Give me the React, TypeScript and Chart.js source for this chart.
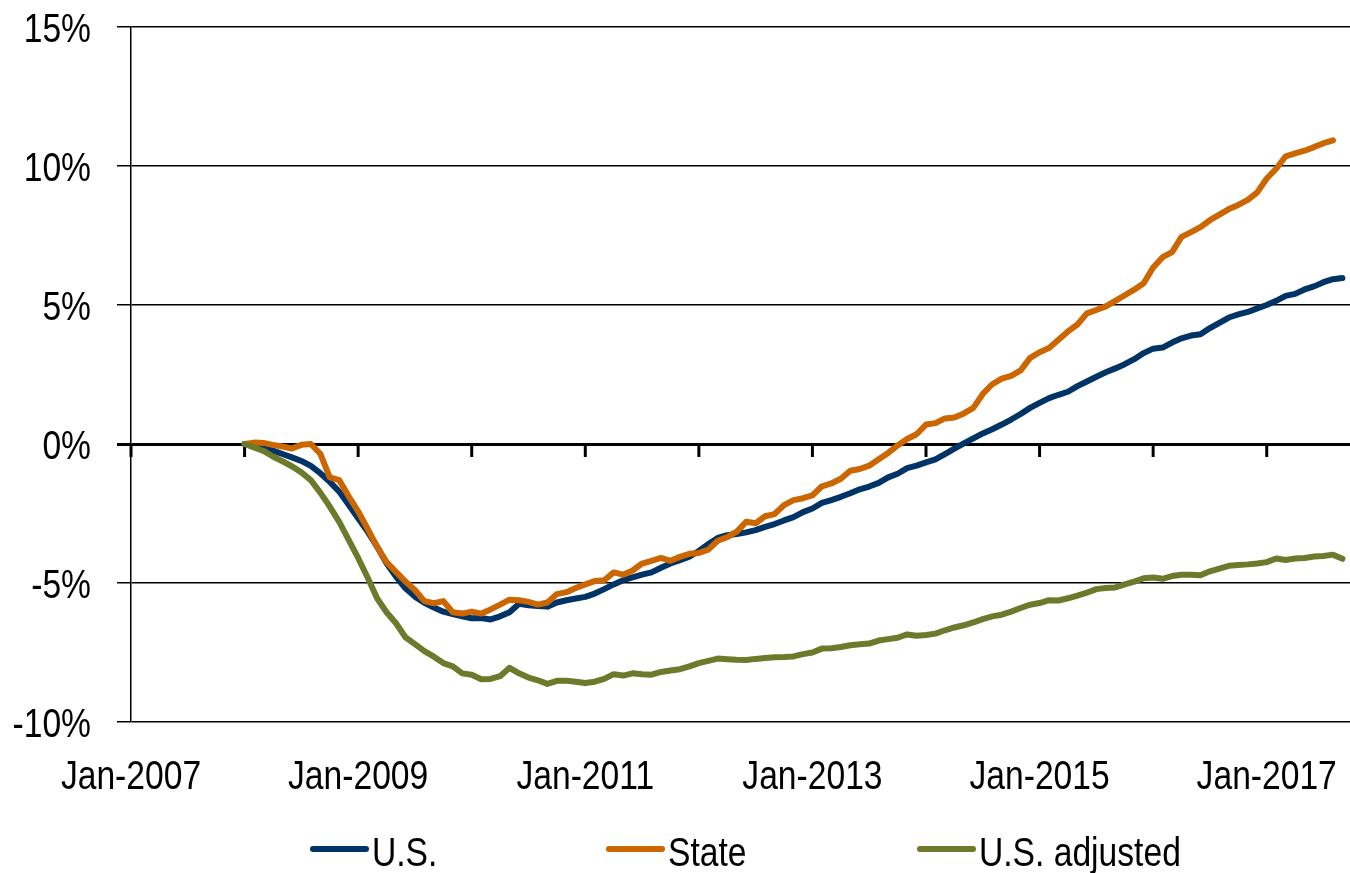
import React, { useEffect, useRef } from 'react';
import { Chart, registerables } from 'chart.js';

Chart.register(...registerables);

// Months are counted from Jan-2007 (= 0). All series start Jan-2008.
const START_MONTH = 12;

const usValues = [
  0, -0.07, -0.16, -0.24, -0.36, -0.48, -0.61, -0.79, -1.05, -1.36, -1.71, -2.19,
  -2.67, -3.15, -3.69, -4.29, -4.77, -5.19, -5.49, -5.71, -5.88, -6.03, -6.12, -6.2,
  -6.27, -6.26, -6.31, -6.2, -6.05, -5.75, -5.8, -5.83, -5.85, -5.7, -5.62, -5.56,
  -5.5, -5.38, -5.22, -5.05, -4.9, -4.8, -4.7, -4.62, -4.45, -4.3, -4.18, -4.05,
  -3.85, -3.6, -3.38, -3.28, -3.24, -3.18, -3.1, -2.98, -2.88, -2.75, -2.63, -2.45,
  -2.32, -2.12, -2.02, -1.9, -1.77, -1.63, -1.53, -1.4, -1.2, -1.07, -0.87, -0.78,
  -0.66, -0.55, -0.36, -0.17, 0.02, 0.2, 0.38, 0.53, 0.7, 0.88, 1.08, 1.3,
  1.48, 1.65, 1.77, 1.88, 2.08, 2.25, 2.42, 2.58, 2.72, 2.87, 3.05, 3.27,
  3.43, 3.47, 3.65, 3.8, 3.9, 3.95, 4.17, 4.36, 4.55, 4.66, 4.75, 4.88,
  5.0, 5.15, 5.33, 5.4, 5.56, 5.67, 5.82, 5.93, 5.97,
];

const stateValues = [
  0, 0.05, 0.04, -0.03, -0.09, -0.16, -0.03, 0.0, -0.35, -1.2, -1.3, -1.88,
  -2.42, -3.05, -3.7, -4.25, -4.6, -4.95, -5.25, -5.65, -5.73, -5.65, -6.05, -6.1,
  -6.03, -6.1, -5.95, -5.78, -5.6, -5.62, -5.68, -5.78, -5.7, -5.4, -5.33, -5.18,
  -5.05, -4.93, -4.9, -4.62, -4.7, -4.55, -4.3, -4.2, -4.1, -4.2, -4.06, -3.95,
  -3.92, -3.8, -3.48, -3.35, -3.15, -2.8, -2.85, -2.6, -2.52, -2.2, -2.02, -1.95,
  -1.85, -1.52, -1.42, -1.25, -0.96, -0.9, -0.78, -0.55, -0.32, -0.05, 0.18, 0.35,
  0.7, 0.75, 0.92, 0.95, 1.1, 1.3, 1.8, 2.15, 2.35, 2.45, 2.65, 3.1,
  3.3, 3.45, 3.75, 4.05, 4.3, 4.7, 4.82, 4.95, 5.15, 5.35, 5.55, 5.78,
  6.35, 6.72, 6.9, 7.45, 7.62, 7.8, 8.05, 8.25, 8.45, 8.6, 8.78, 9.05,
  9.55, 9.9, 10.35, 10.45, 10.55, 10.68, 10.82, 10.92,
];

const usAdjustedValues = [
  0, -0.12, -0.25, -0.45, -0.62, -0.8, -1.02, -1.3, -1.75, -2.25, -2.8, -3.45,
  -4.1, -4.8, -5.55, -6.05, -6.45, -6.95, -7.2, -7.45, -7.65, -7.88, -8.0, -8.25,
  -8.3, -8.46, -8.45, -8.35, -8.05, -8.25, -8.4, -8.5, -8.63, -8.52, -8.52, -8.55,
  -8.6, -8.55, -8.45, -8.28, -8.33, -8.25, -8.28, -8.3, -8.2, -8.15, -8.1, -8.0,
  -7.88, -7.8, -7.72, -7.74, -7.76, -7.77, -7.73, -7.7, -7.67, -7.66, -7.64, -7.56,
  -7.5, -7.36, -7.35, -7.3, -7.24, -7.2, -7.18, -7.07, -7.02, -6.97, -6.85, -6.9,
  -6.87, -6.82, -6.7, -6.6, -6.52, -6.42, -6.3, -6.2, -6.14, -6.03, -5.9, -5.78,
  -5.72, -5.62, -5.63, -5.55, -5.45, -5.35, -5.22, -5.18, -5.16, -5.05, -4.95, -4.83,
  -4.8, -4.85, -4.75, -4.7, -4.7, -4.72, -4.58, -4.48, -4.38, -4.35, -4.33, -4.3,
  -4.25, -4.12, -4.17, -4.12, -4.1, -4.05, -4.03, -3.98, -4.13,
];

const seriesNames = ['U.S.', 'State', 'U.S. adjusted'];
const seriesColors = ['#003366', '#CC6600', '#6B7A2B'];

// One tick per January; label every other year
const xTickLabels = [
  'Jan-2007', '', 'Jan-2009', '', 'Jan-2011', '', 'Jan-2013', '', 'Jan-2015', '', 'Jan-2017',
];
const yTickValues = [-10, -5, 0, 5, 10, 15];

const FONT = '"Liberation Sans", Arial, sans-serif';
const FONT_SIZE = 41;
const NARROW = 0.82; // horizontal squeeze to imitate a narrow face
const legendLeft = [313, 609, 920];

const toPoints = (vals: number[]) => vals.map((v, i) => ({ x: START_MONTH + i, y: v }));

function narrowText(ctx: CanvasRenderingContext2D, txt: string, x: number, y: number, align: CanvasTextAlign) {
  ctx.save();
  ctx.translate(x, y);
  ctx.scale(NARROW, 1);
  ctx.textAlign = align;
  ctx.textBaseline = 'alphabetic';
  ctx.fillText(txt, 0, 0);
  ctx.restore();
}

const zeroTicksPlugin = {
  id: 'zeroTicks',
  beforeDatasetsDraw(chart: any) {
    const xs = chart.scales.x;
    const ys = chart.scales.y;
    const ctx = chart.ctx;
    const y0 = ys.getPixelForValue(0);
    ctx.save();
    ctx.strokeStyle = '#000';
    ctx.lineWidth = 3;
    ctx.lineCap = 'butt';
    xs.ticks.forEach((t: any) => {
      const px = xs.getPixelForValue(t.value);
      ctx.beginPath();
      ctx.moveTo(px, y0);
      ctx.lineTo(px, y0 + 13);
      ctx.stroke();
    });
    ctx.restore();
  },
};

const textPlugin = {
  id: 'narrowText',
  afterDraw(chart: any) {
    const xs = chart.scales.x;
    const ys = chart.scales.y;
    const ctx: CanvasRenderingContext2D = chart.ctx;
    const capHalf = FONT_SIZE * 0.716 / 2;
    ctx.save();
    ctx.fillStyle = '#000';
    ctx.font = `${FONT_SIZE}px ${FONT}`;
    ys.ticks.forEach((t: any) => {
      const py = ys.getPixelForValue(t.value);
      narrowText(ctx, `${t.value}%`, ys.right - 40, py + capHalf, 'right');
    });
    xs.ticks.forEach((t: any, i: number) => {
      const label = xTickLabels[i];
      if (!label) return;
      narrowText(ctx, label, xs.getPixelForValue(t.value), 789, 'center');
    });
    // legend
    seriesNames.forEach((name, i) => {
      const lx = legendLeft[i];
      ctx.save();
      ctx.strokeStyle = seriesColors[i];
      ctx.lineWidth = 6;
      ctx.lineCap = 'round';
      ctx.beginPath();
      ctx.moveTo(lx, 849);
      ctx.lineTo(lx + 53, 849);
      ctx.stroke();
      ctx.restore();
      narrowText(ctx, name, lx + 59, 866, 'left');
    });
    ctx.restore();
  },
};

export default function App() {
  const canvasRef = useRef<HTMLCanvasElement | null>(null);

  useEffect(() => {
    if (!canvasRef.current) return;
    const allSeries = [usValues, stateValues, usAdjustedValues];
    const chart = new Chart(canvasRef.current, {
      type: 'line',
      data: {
        datasets: allSeries.map((vals, i) => ({
          label: seriesNames[i],
          data: toPoints(vals),
          borderColor: seriesColors[i],
          backgroundColor: seriesColors[i],
          borderWidth: 6,
          pointRadius: 0,
          borderCapStyle: 'round',
          borderJoinStyle: 'round',
          tension: 0,
          order: 2 - i,
        })),
      },
      options: {
        animation: false,
        responsive: false,
        maintainAspectRatio: false,
        layout: { padding: { left: 0, right: 0, top: 27, bottom: 0 } },
        plugins: {
          legend: { display: false },
          tooltip: { enabled: false },
        },
        scales: {
          x: {
            type: 'linear',
            min: 0,
            max: 128.8,
            afterBuildTicks: (scale: any) => {
              scale.ticks = xTickLabels.map((_, i) => ({ value: i * 12 }));
            },
            afterFit: (scale: any) => {
              scale.height = 151;
            },
            grid: { display: false, drawTicks: false },
            border: { display: false },
            ticks: { display: false },
          },
          y: {
            min: -10,
            max: 15,
            afterBuildTicks: (scale: any) => {
              scale.ticks = yTickValues.map((v) => ({ value: v }));
            },
            afterFit: (scale: any) => {
              scale.width = 131;
            },
            grid: {
              color: '#000',
              lineWidth: (c: any) => (c.tick && c.tick.value === 0 ? 3 : 1.5),
              tickLength: 14,
              drawTicks: true,
            },
            border: { display: true, color: '#000', width: 1.5 },
            ticks: { display: false },
          },
        },
      },
      plugins: [zeroTicksPlugin, textPlugin],
    });
    return () => chart.destroy();
  }, []);

  return (
    <div style={{ position: 'absolute', left: 0, top: 0, width: 1350, height: 873, background: '#fff' }}>
      <canvas ref={canvasRef} width={1350} height={873} style={{ display: 'block' }} />
    </div>
  );
}
